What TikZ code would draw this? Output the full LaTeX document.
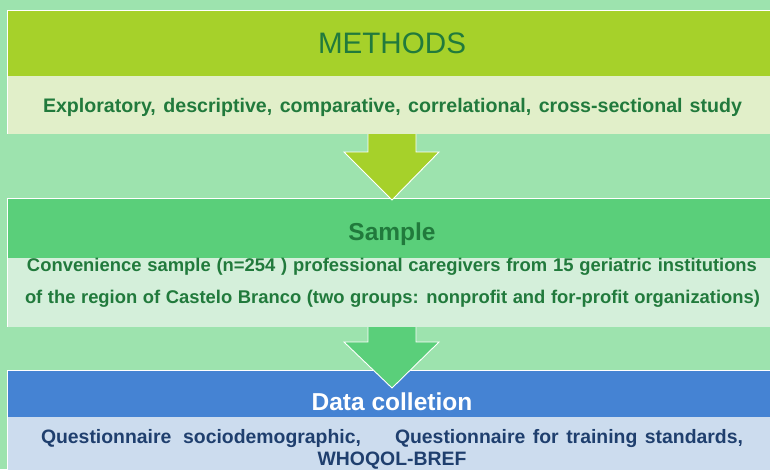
\documentclass[tikz,border=0pt]{standalone}
\usepackage{fontspec}
\setmainfont{Liberation Sans}
\definecolor{bgc}{HTML}{9DE3AE}
\definecolor{hone}{HTML}{A6D12A}
\definecolor{pone}{HTML}{E1EFC9}
\definecolor{htwo}{HTML}{5ACF7A}
\definecolor{ptwo}{HTML}{D4EFDA}
\definecolor{hthree}{HTML}{4583D3}
\definecolor{pthree}{HTML}{CCDCEE}
\definecolor{tgreen}{HTML}{217A3C}
\definecolor{tnavy}{HTML}{1F3F6E}
\tikzset{
  txt/.style={inner sep=0pt, outer sep=0pt},
  gtxt/.style={txt, text=tgreen, font=\bfseries\fontsize{18.4}{20}\selectfont},
  ntxt/.style={txt, text=tnavy, font=\bfseries\fontsize{19.4}{21}\selectfont},
  edge/.style={white, line width=0.9pt},
  blockarrow/.style={white, line width=0.9pt, line join=miter}
}
\begin{document}
\begin{tikzpicture}[x=1pt,y=-1pt]
\useasboundingbox (0,0) rectangle (770,469);
\fill[bgc] (0,0) rectangle (770,469);
% box 1
\fill[hone] (7,10) rectangle (772,76);
\fill[pone] (7,76) rectangle (772,134);
\draw[edge] (772,10) -- (7,10) -- (7,134);
% box 2
\fill[htwo] (7,198) rectangle (772,258);
\fill[ptwo] (7,258) rectangle (772,327);
\draw[edge] (772,198) -- (7,198) -- (7,327);
% box 3
\fill[hthree] (7,370) rectangle (772,417);
\fill[pthree] (7,417) rectangle (772,470);
\draw[edge] (772,370) -- (7,370) -- (7,470);
% arrow 1
\fill[hone] (368,134) -- (368,152) -- (344,152) -- (392,200) -- (439,152) -- (416,152) -- (416,134) -- cycle;
\draw[blockarrow] (368,134) -- (368,152) -- (344,152) -- (392,200) -- (439,152) -- (416,152) -- (416,134);
% arrow 2
\fill[htwo] (368,327) -- (368,342) -- (344,342) -- (392,388) -- (439,342) -- (416,342) -- (416,327) -- cycle;
\draw[blockarrow] (368,327) -- (368,342) -- (344,342) -- (392,388) -- (439,342) -- (416,342) -- (416,327);
% texts
\node[txt, text=tgreen, font=\fontsize{29.6}{32}\selectfont, anchor=base] (methods) at (392,53.3) {METHODS};
\node[gtxt, font=\bfseries\fontsize{19.6}{21}\selectfont, anchor=base west] (study) at (43,112.7)
  {\makebox[699pt][s]{Exploratory, descriptive, comparative, correlational, cross-sectional study}};
\node[txt, text=tgreen, font=\bfseries\fontsize{24.5}{26}\selectfont, anchor=base] (sample) at (392,240) {Sample};
\node[gtxt, anchor=base west] (sone) at (27,271.7)
  {\makebox[730pt][s]{Convenience sample (n=254 ) professional caregivers from 15 geriatric institutions}};
\node[gtxt, anchor=base west] (stwo) at (25,303.3)
  {\makebox[735pt][s]{of the region of Castelo Branco (two groups: nonprofit and for-profit organizations)}};
\node[txt, text=white, font=\bfseries\fontsize{24.5}{26}\selectfont, anchor=base] (data) at (392,410.7) {Data colletion};
\node[ntxt, anchor=base west] (qone) at (41,443) {\makebox[320pt][s]{Questionnaire sociodemographic,}};
\node[ntxt, anchor=base west] (qtwo) at (395,443) {\makebox[348pt][s]{Questionnaire for training standards,}};
\node[ntxt, anchor=base] (who) at (392,465) {WHOQOL-BREF};
\end{tikzpicture}
\end{document}
